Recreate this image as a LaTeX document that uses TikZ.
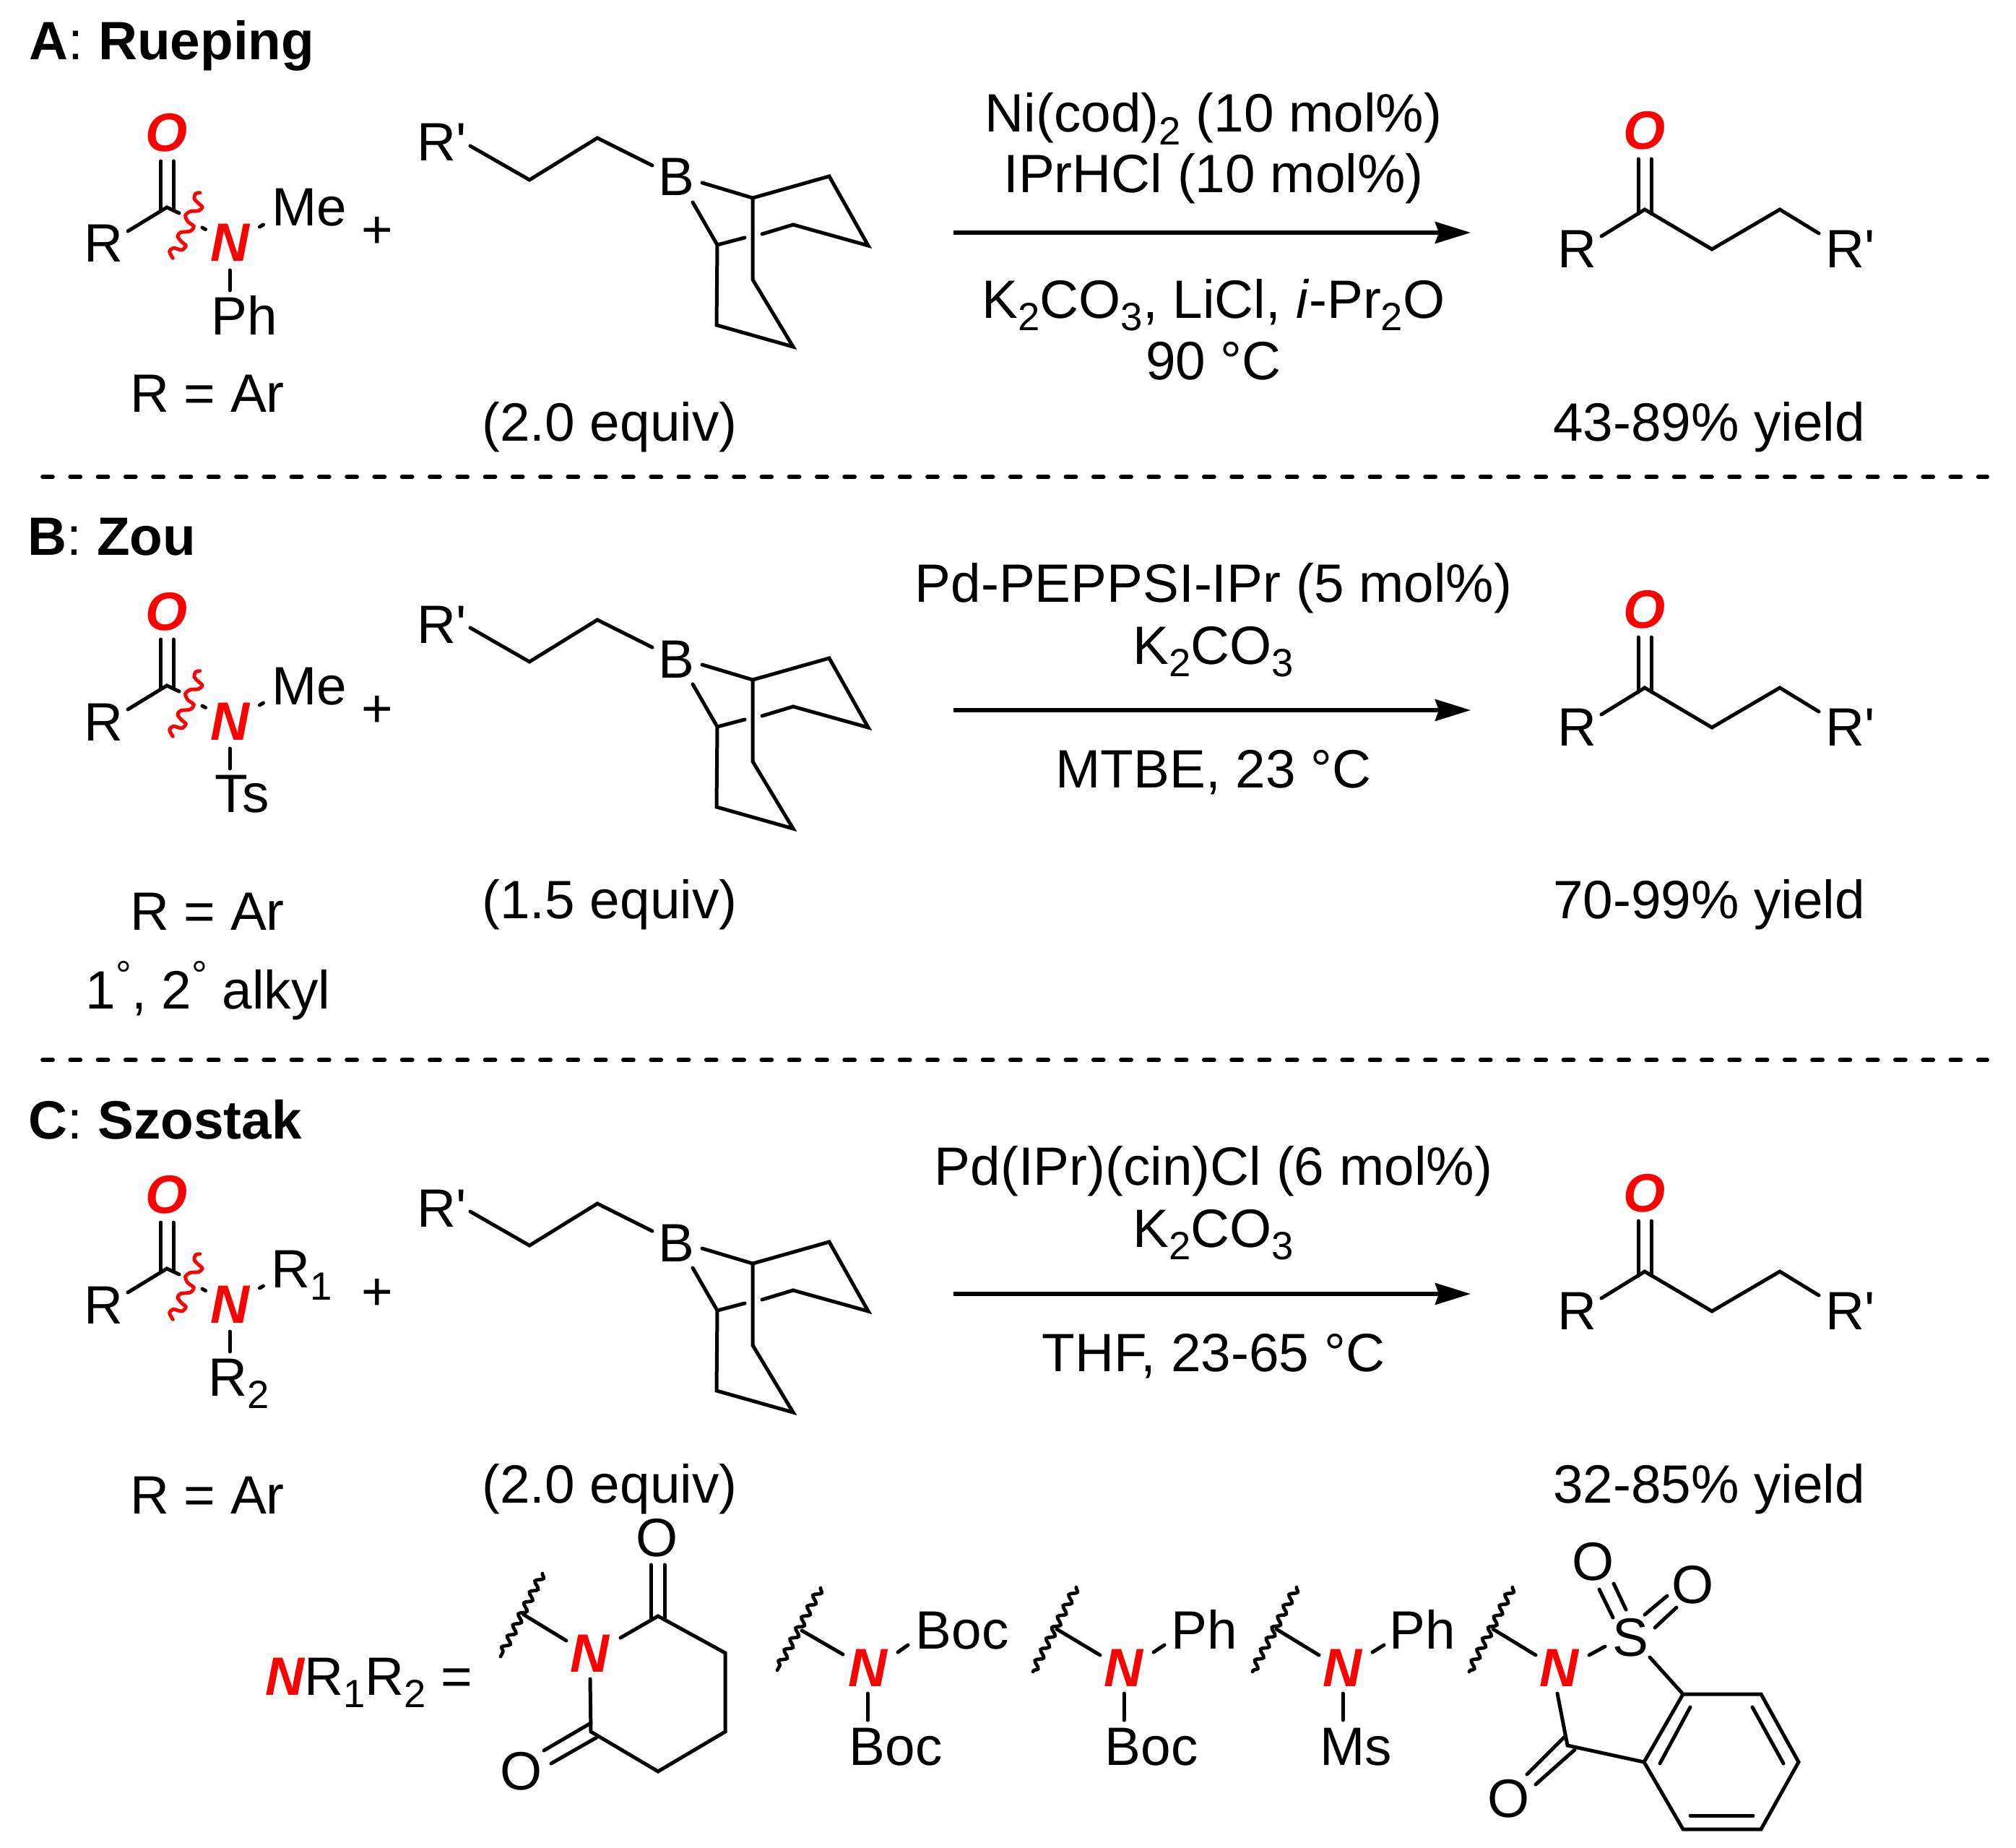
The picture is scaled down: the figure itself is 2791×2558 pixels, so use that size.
\documentclass[tikz,border=0pt]{standalone}
\usepackage{fontspec}
\setmainfont{Liberation Sans}
\usetikzlibrary{arrows.meta,decorations.pathmorphing}
\newcommand{\txtsize}{\fontsize{21.25}{25}\selectfont}
\newcommand{\chemsub}[1]{\raisebox{-4.9pt}{\fontsize{15.5}{17}\selectfont #1}}
\newcommand{\chemdeg}{\raisebox{7.7pt}{\fontsize{15.5}{17}\selectfont °}}
\newcommand{\redatom}[1]{\textcolor{red}{\bfseries\itshape #1}}
\tikzset{
	bond/.style={line width=1.42pt, line join=miter, line cap=round},
	lbl/.style={font=\txtsize, inner sep=0pt, anchor=base},
	lblw/.style={lbl, anchor=base west},
	sep/.style={line width=1.65pt, line cap=round, dash pattern=on 3.98pt off 6.906pt},
	redwave/.style={red, line width=1.4pt, line cap=round},
	blackwave/.style={line width=1.35pt, line cap=round, decorate, decoration={snake, amplitude=1.3pt, segment length=4.85pt}},
	rxn/.style={line width=1.5pt, -{Stealth[length=14pt, width=8.5pt, inset=1.5pt]}},
	amide/.pic={
		\coordinate (C) at (231,287);
		\coordinate (RE) at (177,320);
		\coordinate (DA) at (222.7,223); \coordinate (DB) at (222.7,291);
		\coordinate (DC) at (240,223); \coordinate (DD) at (240,291);
		\coordinate (CA) at (248,295); \coordinate (CB) at (280,315); \coordinate (CC) at (284.5,317.5);
		\coordinate (MA) at (359.5,314); \coordinate (MB) at (364.5,311);
		\node[lbl] (atomR) at (143,363) {R};
		\node[lbl] (atomO) at (231,210) {\redatom{O}};
		\node[lbl] (atomN) at (318.5,362) {\redatom{N}};
		\node[lbl] (plus) at (522,344) {+};
		\draw[bond] (RE) -- (C) -- (CA);
		\draw[bond] (CB) -- (CC);
		\draw[bond] (MA) -- (MB);
		\draw[bond] (DA) -- (DB);
		\draw[bond] (DC) -- (DD);
		\draw[redwave] plot[smooth] coordinates {(276.7,266.7) (270.7,268.3) (269,275) (275,281.7) (280,286.7) (275,291.7) (263.3,292.7) (256.7,298.3) (260,306.7) (268.3,313.3) (263.3,320) (250,321.7) (246,327.3) (251.7,335) (257.3,340) (251.7,346) (240,343.3) (234.7,348.3) (239.3,357.3)};
	},
	borane/.pic={
		\coordinate (E1) at (651,202); \coordinate (E2) at (733,249);
		\coordinate (E3) at (827,191); \coordinate (E4) at (903,229);
		\coordinate (B1) at (972,253); \coordinate (B2) at (959,280);
		\coordinate (H1) at (1042,274); \coordinate (H2) at (993,339);
		\coordinate (K1) at (1148,244); \coordinate (K2) at (1202,340);
		\coordinate (K3) at (1098,311); \coordinate (K4) at (1055,324);
		\coordinate (K5) at (1031,329);
		\coordinate (L1) at (1042,387); \coordinate (L2) at (1098,480);
		\coordinate (L3) at (992,450);
		\node[lblw] (atomRp) at (577,223) {R\textquotesingle};
		\node[lbl] (atomB) at (936,271) {B};
		\draw[bond] (E1) -- (E2) -- (E3) -- (E4);
		\draw[bond] (B1) -- (H1) -- (K1) -- (K2) -- (K3) -- (K4);
		\draw[bond] (B2) -- (H2) -- (K5);
		\draw[bond] (H1) -- (L1) -- (L2) -- (L3) -- (H2);
	},
	ketone/.pic={
		\coordinate (KC) at (2277,290); \coordinate (KR) at (2217,327);
		\coordinate (KD) at (2370,345); \coordinate (KE) at (2464,290);
		\coordinate (KF) at (2518,323);
		\coordinate (KA) at (2268,220); \coordinate (KB) at (2268,296);
		\coordinate (KG) at (2286,220); \coordinate (KH) at (2286,296);
		\node[lbl] (atomO) at (2277,207) {\redatom{O}};
		\node[lbl] (atomR) at (2183,370) {R};
		\node[lblw] (atomRp) at (2527,370) {R\textquotesingle};
		\draw[bond] (KR) -- (KC) -- (KD) -- (KE) -- (KF);
		\draw[bond] (KA) -- (KB);
		\draw[bond] (KG) -- (KH);
	},
	rxnarrow/.pic={
		\coordinate (AL) at (1320,322); \coordinate (AR) at (2036,322);
		\draw[rxn] (AL) -- (AR);
	}
}
\begin{document}
\begin{tikzpicture}[x=0.01cm, y=-0.01cm]
	\useasboundingbox (0,0) rectangle (2791,2558);

	% section A
	\node[lblw] (headA) at (40,83) {{\bfseries A}: {\bfseries Rueping}};
	\pic at (0,0) {amide};
	\pic at (0,0) {borane};
	\pic at (0,0) {ketone};
	\pic at (0,0) {rxnarrow};
	\coordinate (PhA) at (318,374); \coordinate (PhB) at (318,402);
	\draw[bond] (PhA) -- (PhB);
	\node[lbl] (meA) at (428,313) {Me};
	\node[lbl] (phA) at (338,463) {Ph};
	\node[lbl] (ruleA) at (287,570) {R = Ar};
	\node[lbl] (equivA) at (844,610) {(2.0 equiv)};
	\node[lbl] (condA) at (1680,183) {Ni(cod)\chemsub{2} (10 mol\%)};
	\node[lbl] (condAb) at (1680,267) {IPrHCl (10 mol\%)};
	\node[lbl] (condAc) at (1680,440) {K\chemsub{2}CO\chemsub{3}, LiCl, \textit{i}-Pr\chemsub{2}O};
	\node[lbl] (condAd) at (1680,525) {90 °C};
	\node[lbl] (yieldA) at (2366,610) {43-89\% yield};

	\coordinate (SepAL) at (59,660); \coordinate (SepAR) at (2751,660);
	\draw[sep] (SepAL) -- (SepAR);

	% section B
	\node[lblw] (headB) at (38,768) {{\bfseries B}: {\bfseries Zou}};
	\pic at (0,662) {amide};
	\pic at (0,667) {borane};
	\pic at (0,662) {ketone};
	\pic at (0,661) {rxnarrow};
	\coordinate (TsA) at (318,1036); \coordinate (TsB) at (318,1064);
	\draw[bond] (TsA) -- (TsB);
	\node[lbl] (meB) at (428,975) {Me};
	\node[lbl] (tsB) at (335,1124) {Ts};
	\node[lbl] (ruleB) at (287,1287) {R = Ar};
	\node[lbl] (alkylB) at (288,1396) {1\chemdeg, 2\chemdeg\ alkyl};
	\node[lbl] (equivB) at (844,1271) {(1.5 equiv)};
	\node[lbl] (condB) at (1680,833) {Pd-PEPPSI-IPr (5 mol\%)};
	\node[lbl] (condBb) at (1680,919) {K\chemsub{2}CO\chemsub{3}};
	\node[lbl] (condBc) at (1680,1090) {MTBE, 23 °C};
	\node[lbl] (yieldB) at (2366,1271) {70-99\% yield};

	\coordinate (SepBL) at (59,1467); \coordinate (SepBR) at (2751,1467);
	\draw[sep] (SepBL) -- (SepBR);

	% section C
	\node[lblw] (headC) at (39,1576) {{\bfseries C}: {\bfseries Szostak}};
	\pic at (0,1469) {amide};
	\pic at (0,1475) {borane};
	\pic at (0,1470) {ketone};
	\pic at (0,1469) {rxnarrow};
	\coordinate (RtwoA) at (318,1843); \coordinate (RtwoB) at (318,1871);
	\draw[bond] (RtwoA) -- (RtwoB);
	\node[lblw] (rOne) at (375,1782) {R\chemsub{1}};
	\node[lblw] (rTwo) at (288,1932) {R\chemsub{2}};
	\node[lbl] (ruleC) at (287,2095) {R = Ar};
	\node[lbl] (equivC) at (844,2080) {(2.0 equiv)};
	\node[lbl] (condC) at (1680,1640) {Pd(IPr)(cin)Cl (6 mol\%)};
	\node[lbl] (condCb) at (1680,1726) {K\chemsub{2}CO\chemsub{3}};
	\node[lbl] (condCc) at (1680,1898) {THF, 23-65 °C};
	\node[lbl] (yieldC) at (2366,2080) {32-85\% yield};

	% amine groups
	\node[lblw] (nrr) at (367,2346) {\redatom{N}R\chemsub{1}R\chemsub{2} =};

	% glutarimide
	\coordinate (GWa) at (751,2178); \coordinate (GWb) at (693,2293);
	\coordinate (GBa) at (725,2235); \coordinate (GBb) at (784,2271);
	\coordinate (GNr) at (859,2267); \coordinate (GC) at (911,2237);
	\coordinate (GOa) at (901,2166); \coordinate (GOb) at (901,2241);
	\coordinate (GOc) at (920,2166); \coordinate (GOd) at (920,2241);
	\coordinate (G2) at (1004,2288); \coordinate (G3) at (1004,2397);
	\coordinate (G4) at (911,2452); \coordinate (G5) at (818,2397);
	\coordinate (GNd) at (817,2324);
	\coordinate (GPa) at (818,2385); \coordinate (GPb) at (753,2423);
	\coordinate (GQa) at (826,2405); \coordinate (GQb) at (763,2441);
	\node[lbl] (gN) at (816,2314) {\redatom{N}};
	\node[lbl] (gOa) at (910,2154) {O};
	\node[lbl] (gOb) at (722,2477) {O};
	\draw[blackwave] (GWa) -- (GWb);
	\draw[bond] (GBa) -- (GBb);
	\draw[bond] (GNr) -- (GC) -- (G2) -- (G3) -- (G4) -- (G5) -- (GNd);
	\draw[bond] (GOa) -- (GOb);
	\draw[bond] (GOc) -- (GOd);
	\draw[bond] (GPa) -- (GPb);
	\draw[bond] (GQa) -- (GQb);

	% NBoc2
	\coordinate (HWa) at (1136,2198); \coordinate (HWb) at (1076,2312);
	\coordinate (HBa) at (1110,2257); \coordinate (HBb) at (1167,2290);
	\coordinate (HRa) at (1243,2287); \coordinate (HRb) at (1257,2277);
	\coordinate (HDa) at (1201,2344); \coordinate (HDb) at (1201,2381);
	\node[lbl] (hN) at (1201,2334) {\redatom{N}};
	\node[lblw] (hBoc) at (1267,2282) {Boc};
	\node[lblw] (hBocb) at (1175,2443) {Boc};
	\draw[blackwave] (HWa) -- (HWb);
	\draw[bond] (HBa) -- (HBb);
	\draw[bond] (HRa) -- (HRb);
	\draw[bond] (HDa) -- (HDb);

	% N(Ph)Boc
	\coordinate (IWa) at (1490,2197); \coordinate (IWb) at (1430,2314);
	\coordinate (IBa) at (1463,2255); \coordinate (IBb) at (1523,2291);
	\coordinate (IRa) at (1597,2287); \coordinate (IRb) at (1612,2277);
	\coordinate (IDa) at (1556,2344); \coordinate (IDb) at (1556,2381);
	\node[lbl] (iN) at (1555,2334) {\redatom{N}};
	\node[lblw] (iPh) at (1621,2282) {Ph};
	\node[lblw] (iBoc) at (1529,2443) {Boc};
	\draw[blackwave] (IWa) -- (IWb);
	\draw[bond] (IBa) -- (IBb);
	\draw[bond] (IRa) -- (IRb);
	\draw[bond] (IDa) -- (IDb);

	% N(Ph)Ms
	\coordinate (JWa) at (1795,2197); \coordinate (JWb) at (1734,2314);
	\coordinate (JBa) at (1767,2255); \coordinate (JBb) at (1826,2291);
	\coordinate (JRa) at (1900,2287); \coordinate (JRb) at (1916,2277);
	\coordinate (JDa) at (1859,2344); \coordinate (JDb) at (1859,2381);
	\node[lbl] (jN) at (1858,2334) {\redatom{N}};
	\node[lblw] (jPh) at (1923,2282) {Ph};
	\node[lblw] (jMs) at (1827,2443) {Ms};
	\draw[blackwave] (JWa) -- (JWb);
	\draw[bond] (JBa) -- (JBb);
	\draw[bond] (JRa) -- (JRb);
	\draw[bond] (JDa) -- (JDb);

	% saccharin
	\coordinate (SWa) at (2094,2197); \coordinate (SWb) at (2034,2314);
	\coordinate (SBa) at (2067,2255); \coordinate (SBb) at (2126,2291);
	\coordinate (SNa) at (2200,2291); \coordinate (SNb) at (2222,2279);
	\coordinate (SAr) at (2284,2294);
	\coordinate (A1) at (2330,2345); \coordinate (A2) at (2438,2345);
	\coordinate (A3) at (2490,2439); \coordinate (A4) at (2438,2532);
	\coordinate (A5) at (2330,2532); \coordinate (A6) at (2276,2439);
	\coordinate (Ia) at (2340,2363); \coordinate (Ib) at (2298,2441);
	\coordinate (Ic) at (2426,2363); \coordinate (Id) at (2469,2441);
	\coordinate (Ie) at (2340,2513); \coordinate (If) at (2427,2513);
	\coordinate (SCn) at (2156,2344); \coordinate (SC) at (2170,2416);
	\coordinate (SOa) at (2233,2239); \coordinate (SOb) at (2214,2200);
	\coordinate (SOc) at (2251,2228); \coordinate (SOd) at (2234,2192);
	\coordinate (SOe) at (2277,2235); \coordinate (SOf) at (2308,2209);
	\coordinate (SOg) at (2291,2253); \coordinate (SOh) at (2321,2225);
	\coordinate (SPa) at (2166,2404); \coordinate (SPb) at (2114,2456);
	\coordinate (SPc) at (2180,2422); \coordinate (SPd) at (2126,2470);
	\node[lbl] (sN) at (2158,2334) {\redatom{N}};
	\node[lbl] (sS) at (2257,2292) {S};
	\node[lbl] (sOa) at (2206,2187) {O};
	\node[lbl] (sOb) at (2344,2219) {O};
	\node[lbl] (sOc) at (2089,2515) {O};
	\draw[blackwave] (SWa) -- (SWb);
	\draw[bond] (SBa) -- (SBb);
	\draw[bond] (SNa) -- (SNb);
	\draw[bond] (SAr) -- (A1) -- (A2) -- (A3) -- (A4) -- (A5) -- (A6) -- (A1);
	\draw[bond] (Ia) -- (Ib);
	\draw[bond] (Ic) -- (Id);
	\draw[bond] (Ie) -- (If);
	\draw[bond] (SCn) -- (SC) -- (A6);
	\draw[bond] (SOa) -- (SOb);
	\draw[bond] (SOc) -- (SOd);
	\draw[bond] (SOe) -- (SOf);
	\draw[bond] (SOg) -- (SOh);
	\draw[bond] (SPa) -- (SPb);
	\draw[bond] (SPc) -- (SPd);
\end{tikzpicture}
\end{document}
